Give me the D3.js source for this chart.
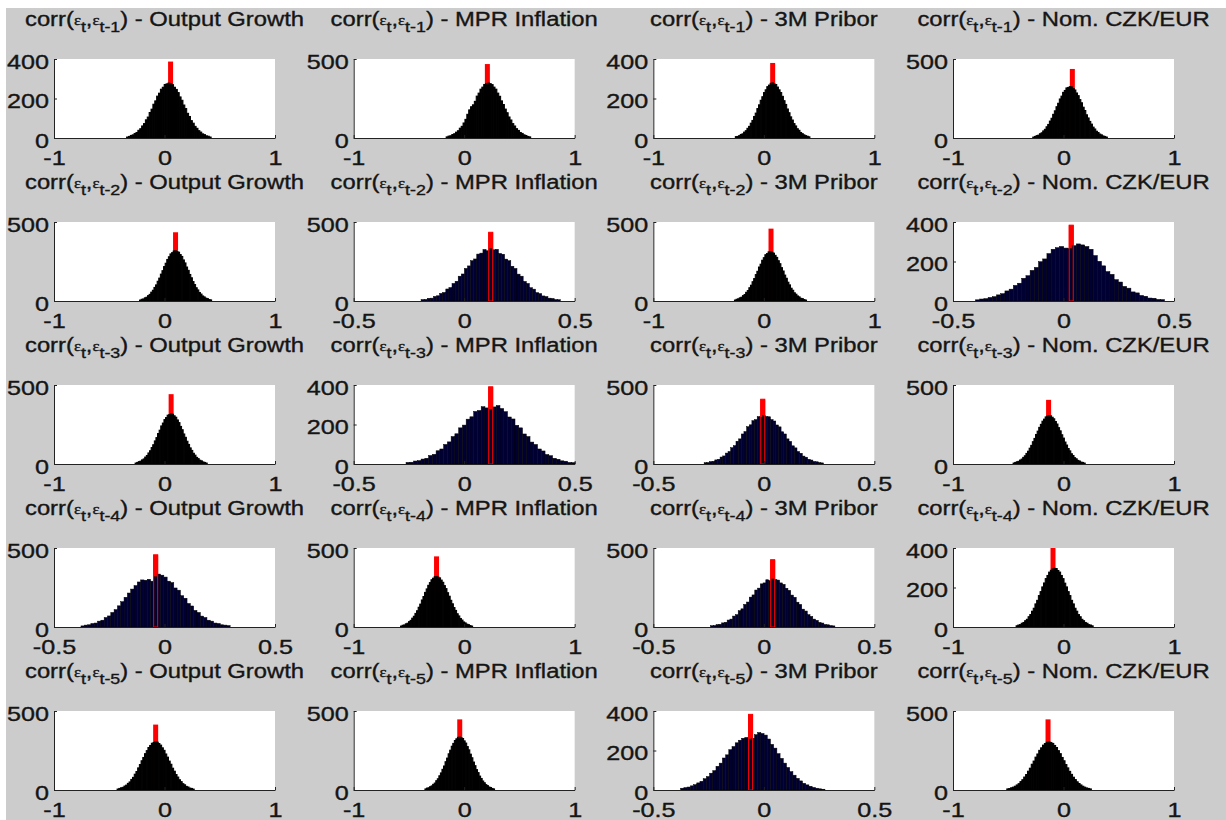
<!DOCTYPE html>
<html>
<head>
<meta charset="utf-8">
<script src="https://cdn.jsdelivr.net/npm/d3@7"></script>
<style>
  body { margin: 0; background: #fff; }
  svg { display: block; }
</style>
</head>
<body>
<svg id="fig" width="1226" height="820"></svg>
<script>
// series (columns) and lags (rows)
const series = ['Output Growth', 'MPR Inflation', '3M Pribor', 'Nom. CZK/EUR'];
const lags = ['1', '2', '3', '4', '5'];

// axis limits, indexed [series][lag]
const xLimits = [
  [[-1, 1], [-1, 1], [-1, 1], [-0.5, 0.5], [-1, 1]],
  [[-1, 1], [-0.5, 0.5], [-0.5, 0.5], [-1, 1], [-1, 1]],
  [[-1, 1], [-1, 1], [-0.5, 0.5], [-0.5, 0.5], [-0.5, 0.5]],
  [[-1, 1], [-0.5, 0.5], [-1, 1], [-1, 1], [-1, 1]]
];
const yMax = [
  [400, 500, 500, 500, 500],
  [500, 500, 400, 500, 500],
  [400, 500, 500, 500, 400],
  [500, 400, 500, 400, 500]
];
const xTicksWide = [-1, 0, 1];
const xTicksNarrow = [-0.5, 0, 0.5];
const yTicks400 = [0, 200, 400];
const yTicks500 = [0, 500];

// histogram bin edges
const binStart = [
  [-0.343, -0.226, -0.266, -0.378, -0.429],
  [-0.163, -0.195, -0.263, -0.576, -0.355],
  [-0.258, -0.266, -0.27, -0.241, -0.376],
  [-0.278, -0.398, -0.456, -0.429, -0.513]
];
const binWidth = [
  [0.017, 0.0145, 0.0145, 0.015, 0.0155],
  [0.017, 0.014, 0.017, 0.0145, 0.014],
  [0.015, 0.0145, 0.012, 0.0125, 0.0145],
  [0.015, 0.019, 0.0145, 0.0155, 0.017]
];

// data value (red bar) and its drawn height
const redValue = [
  [0.055, 0.1, 0.06, -0.04, -0.08],
  [0.21, 0.12, 0.12, -0.25, -0.04],
  [0.08, 0.065, -0.005, 0.04, -0.06],
  [0.08, 0.035, -0.135, -0.095, -0.14]
];
const redHeight = [
  [387, 435, 442, 457, 414],
  [468, 435, 391, 447, 447],
  [380, 458, 410, 426, 383],
  [437, 384, 406, 400, 447]
];

// bin counts per lag
const countsOutputGrowth = [
  [5,8,13,16,23,28,39,47,61,73,92,106,129,146,171,188,212,227,247,257,271,274,278,275,270,257,246,230,208,191,167,149,125,109,88,75,59,49,37,30,21,17,11,9,5],
  [6,11,13,20,24,34,42,56,68,86,102,125,145,170,192,218,239,263,280,298,306,316,318,313,309,294,282,260,241,215,194,168,147,123,104,84,70,54,44,32,26,18,15,9,7],
  [6,10,15,18,26,32,44,54,70,84,104,122,146,167,193,214,241,259,281,294,309,313,317,315,305,296,279,262,238,217,190,169,144,124,102,86,68,56,42,34,24,20,13,10,6],
  [7,12,14,22,25,37,43,60,70,92,110,134,160,188,215,240,262,285,298,296,302,290,318,335,328,316,290,281,247,233,198,182,149,133,105,92,69,60,43,37,25,22,14,12,9],
  [6,10,14,17,25,31,42,51,67,80,100,117,140,161,185,206,230,249,269,282,296,301,304,303,294,284,267,251,228,208,183,163,138,119,98,82,65,53,40,33,23,19,12,10,6]
];
const countsMprInflation = [
  [7,12,14,22,27,37,46,62,74,95,118,150,178,198,210,232,265,284,309,322,339,343,348,344,338,322,309,284,264,235,212,183,160,133,114,91,76,59,48,35,29,20,16,10,7],
  [9,10,17,18,29,33,48,54,76,85,111,125,157,171,206,222,255,266,297,303,326,318,331,324,327,301,296,265,255,220,206,170,157,124,111,84,75,53,47,32,28,18,16,9,8],
  [8,9,15,17,25,29,43,49,67,76,99,112,139,153,183,197,227,239,266,271,290,284,276,289,296,281,265,238,228,196,183,152,139,111,99,76,66,48,42,29,24,16,14,8,7],
  [6,11,13,20,24,34,42,56,68,86,103,125,145,171,193,219,241,264,281,299,309,318,320,316,311,297,283,262,243,217,195,169,147,123,105,84,70,54,44,32,26,18,15,9,6],
  [7,12,14,21,26,36,44,59,71,90,108,131,152,179,202,229,252,277,295,313,324,333,335,331,326,311,297,275,254,227,204,177,154,129,110,88,73,57,46,34,28,19,16,10,7]
];
const countsPribor = [
  [7,8,12,18,21,30,37,49,59,75,89,109,126,149,168,191,209,230,244,260,268,277,279,274,271,258,244,230,211,189,170,147,128,107,91,73,61,47,39,28,22,16,12,9,6],
  [6,11,14,20,24,34,41,55,66,84,100,122,142,167,188,215,233,258,274,293,300,311,312,309,303,289,276,255,236,211,190,164,144,119,102,81,68,52,43,32,26,17,15,9,6],
  [8,9,15,17,26,30,44,51,69,79,103,116,144,159,190,205,236,248,274,281,300,296,306,301,299,281,272,247,235,204,190,159,143,115,102,79,68,50,43,30,25,16,14,9,7],
  [8,9,15,17,26,30,44,50,69,78,103,115,143,158,189,203,234,246,273,279,299,294,304,300,297,279,270,245,232,202,188,157,143,113,101,78,67,50,42,29,25,16,14,9,7],
  [9,12,15,21,27,36,44,57,68,85,98,120,136,162,178,204,220,239,252,262,266,258,262,280,291,286,278,258,231,212,184,160,136,114,93,75,59,46,34,26,19,13,9,6,4]
];
const countsCzkEur = [
  [6,10,15,18,27,33,45,55,71,86,107,125,150,172,198,220,247,265,289,301,317,320,325,323,313,304,285,268,243,223,195,174,147,127,105,88,69,57,43,35,25,20,13,10,6],
  [6,10,12,18,22,31,37,51,60,79,90,115,128,155,170,199,213,240,262,270,276,268,265,280,289,284,276,262,230,201,178,149,135,108,96,74,65,46,41,28,24,15,14,8,7],
  [6,10,14,17,25,31,42,52,67,81,100,118,141,162,187,208,232,251,271,284,298,303,306,305,296,286,269,253,230,210,185,164,139,120,98,83,65,54,40,33,23,19,12,10,6],
  [6,10,12,19,23,32,39,52,63,80,95,117,135,159,179,203,223,245,261,278,287,294,297,296,286,278,261,245,222,203,179,159,135,117,95,80,63,52,39,32,23,19,12,10,6],
  [7,9,14,18,24,32,40,53,65,82,98,119,138,163,183,208,228,251,267,284,294,302,304,301,295,282,269,249,230,206,185,161,140,118,99,81,66,52,41,32,24,18,13,10,7]
];
const counts = [countsOutputGrowth, countsMprInflation, countsPribor, countsCzkEur];

// layout
const W = 1226, H = 820;
const pw = 221, ph = 79;
const colLeft = d3.scaleLinear().domain([0, 3]).range([54, 953]);
const rowTop = d3.scaleLinear().domain([0, 4]).range([59, 711]);
const font = 'Liberation Sans, Arial, Helvetica, sans-serif';
const tickSx = 1.26, titleSx = 1.19;

const svg = d3.select('#fig');
svg.append('rect').attr('width', W).attr('height', H).attr('fill', '#cccccc');
svg.append('rect').attr('width', W).attr('height', 8).attr('fill', '#fff');
svg.append('rect').attr('width', 6).attr('height', H).attr('fill', '#fff');

function drawTitle(s, l) {
  const t = svg.append('text')
    .attr('transform', `translate(${colLeft(s) + pw / 2},${rowTop(l) - 33}) scale(${titleSx},1)`)
    .attr('text-anchor', 'middle')
    .attr('font-family', font)
    .attr('font-size', 20)
    .attr('fill', '#151515')
    .attr('stroke', '#151515')
    .attr('stroke-width', 0.35);
  t.append('tspan').text('corr(');
  t.append('tspan').attr('font-family', 'Liberation Serif, serif').attr('font-size', 14).attr('dy', -1).text('ε');
  t.append('tspan').attr('font-size', 15).attr('dy', 7).text('t');
  t.append('tspan').attr('dy', -6).text(',');
  t.append('tspan').attr('font-family', 'Liberation Serif, serif').attr('font-size', 14).attr('dy', -1).text('ε');
  t.append('tspan').attr('font-size', 15).attr('dy', 7).text('t-' + lags[l]);
  t.append('tspan').attr('dy', -6).text(') - ' + series[s]);
}

function drawPanel(s, l) {
  const lim = xLimits[s][l];
  const narrow = lim[1] - lim[0] < 1.5;
  const x = d3.scaleLinear().domain(lim).range([0, pw]);
  const y = d3.scaleLinear().domain([0, yMax[s][l]]).range([ph, 0]);
  const g = svg.append('g').attr('transform', `translate(${colLeft(s)},${rowTop(l)})`);

  g.append('rect').attr('width', pw).attr('height', ph).attr('fill', '#fff');

  const b0 = binStart[s][l], bw = binWidth[s][l];
  const bins = counts[s][l].map((n, k) => ({ x0: b0 + k * bw, x1: b0 + (k + 1) * bw, n }));

  const rv = redValue[s][l], rh = redHeight[s][l];
  g.append('rect')
    .attr('x', x(rv) - 2.5).attr('width', 5)
    .attr('y', y(rh)).attr('height', ph - y(rh))
    .attr('fill', '#ff0000');

  g.selectAll('rect.bar')
    .data(bins)
    .join('rect')
    .attr('class', 'bar')
    .attr('x', d => x(d.x0))
    .attr('width', d => x(d.x1) - x(d.x0))
    .attr('y', d => y(d.n))
    .attr('height', d => ph - y(d.n))
    .attr('fill', narrow ? '#000032' : '#000')
    .attr('stroke', '#000')
    .attr('stroke-width', narrow ? 0.5 : 1);

  if (narrow) {
    g.append('rect')
      .attr('x', x(rv) - 2).attr('width', 4)
      .attr('y', y(rh)).attr('height', ph - y(rh))
      .attr('fill', 'none').attr('stroke', '#ff0000').attr('stroke-width', 1);
  }

  const xa = g.append('g')
    .attr('transform', `translate(0,${ph})`)
    .call(d3.axisBottom(x)
      .tickValues(narrow ? xTicksNarrow : xTicksWide)
      .tickSizeInner(-3).tickSizeOuter(0)
      .tickFormat(d => String(d)));
  const ya = g.append('g')
    .call(d3.axisLeft(y)
      .tickValues(yMax[s][l] === 400 ? yTicks400 : yTicks500)
      .tickSizeInner(-3).tickSizeOuter(0)
      .tickFormat(d => String(d)));

  [xa, ya].forEach(a => {
    a.attr('font-family', font).attr('font-size', 20);
    a.select('.domain').attr('stroke', '#222');
    a.selectAll('.tick line').attr('stroke', '#222');
    a.selectAll('.tick text')
      .attr('fill', '#151515')
      .attr('stroke', '#151515')
      .attr('stroke-width', 0.35)
      .attr('transform', `scale(${tickSx},1)`);
  });
  xa.selectAll('.tick text').attr('y', 27).attr('dy', 0);
  ya.selectAll('.tick text').attr('x', -5 / tickSx).attr('y', 9).attr('dy', 0);
}

for (let l = 0; l < lags.length; l++) {
  for (let s = 0; s < series.length; s++) {
    drawTitle(s, l);
    drawPanel(s, l);
  }
}
</script>
</body>
</html>
